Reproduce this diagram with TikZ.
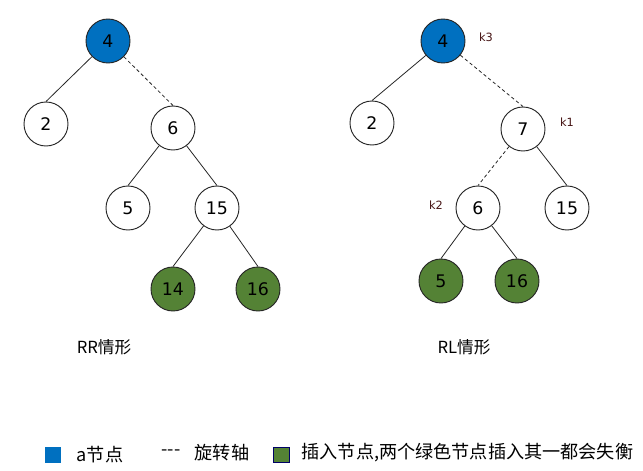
\documentclass[tikz,border=0pt]{standalone}
\usepackage{fontspec}
\setmainfont{DejaVu Sans}
\newfontfamily\cjk{Noto Sans CJK SC}
\definecolor{aBlue}{RGB}{0,112,192}
\definecolor{insGreen}{RGB}{84,130,53}
\definecolor{kRed}{RGB}{70,20,20}
\tikzset{
  tnode/.style={circle, draw=black!85, line width=0.7pt, fill=white, minimum size=33pt,
                inner sep=0pt, font=\fontsize{13}{15}\selectfont},
  bluenode/.style={tnode, fill=aBlue},
  greennode/.style={tnode, fill=insGreen},
  edge/.style={draw=black!85, line width=0.6pt},
  rotedge/.style={edge, dash pattern=on 2.5pt off 2pt},
  klabel/.style={font=\fontsize{8.5}{10}\selectfont, text=kRed},
  caption/.style={font=\cjk\fontsize{12.5}{14}\selectfont},
  legendtext/.style={font=\cjk\fontsize{13.6}{15}\selectfont},
  legendbox/.style={minimum width=12pt, minimum height=11.5pt, inner sep=0pt}
}
\begin{document}
\begin{tikzpicture}[x=0.75pt, y=-0.75pt]
\useasboundingbox (0,0) rectangle (643,471);
% RR
\node[bluenode] (lroot) at (108,41) {4};
\node[tnode] (l2) at (46,124) {2};
\node[tnode] (l6) at (173,128) {6};
\node[tnode] (l5) at (128,208) {5};
\node[tnode] (l15) at (217,208) {15};
\node[greennode] (l14) at (173,289) {14};
\node[greennode] (l16) at (258,289) {16};
\draw[edge] (lroot) -- (l2.north);
\draw[rotedge] (lroot) -- (l6.north);
\draw[edge] (l6) -- (l5.north);
\draw[edge] (l6) -- (l15.north);
\draw[edge] (l15) -- (l14.north);
\draw[edge] (l15) -- (l16.north);
\node[caption] (rrcap) at (104,347) {RR情形};
% RL
\node[bluenode] (rroot) at (443,41) {4};
\node[tnode] (r2) at (372,123) {2};
\node[tnode] (r7) at (523,129) {7};
\node[tnode] (r6) at (478,208) {6};
\node[tnode] (r15) at (567,208) {15};
\node[greennode] (r5) at (441,281) {5};
\node[greennode] (r16) at (517,281) {16};
\draw[edge] (rroot) -- (r2.north);
\draw[rotedge] (rroot) -- (r7.north);
\draw[rotedge] (r7) -- (r6.north);
\draw[edge] (r7) -- (r15.north);
\draw[edge] (r6) -- (r5.north);
\draw[edge] (r6) -- (r16.north);
\node[klabel] (k3) at (486,37) {k3};
\node[klabel] (k1) at (567,122) {k1};
\node[klabel] (k2) at (436,205) {k2};
\node[caption] (rlcap) at (464,347) {RL情形};
% legend
\node[legendbox, fill=aBlue] (keyblue) at (53,455) {};
\node[legendtext] (txtblue) at (100,455) {a节点};
\node[legendtext] (keydash) at (171,453) {{-}{-}{-}};
\node[legendtext] (txtdash) at (222,453) {旋转轴};
\node[legendbox, fill=insGreen, draw=black!60!blue, line width=0.4pt] (keygreen) at (281,455) {};
\node[legendtext, anchor=west] (txtgreen) at (297,453) {插入节点,两个绿色节点插入其一都会失衡};
\end{tikzpicture}
\end{document}
